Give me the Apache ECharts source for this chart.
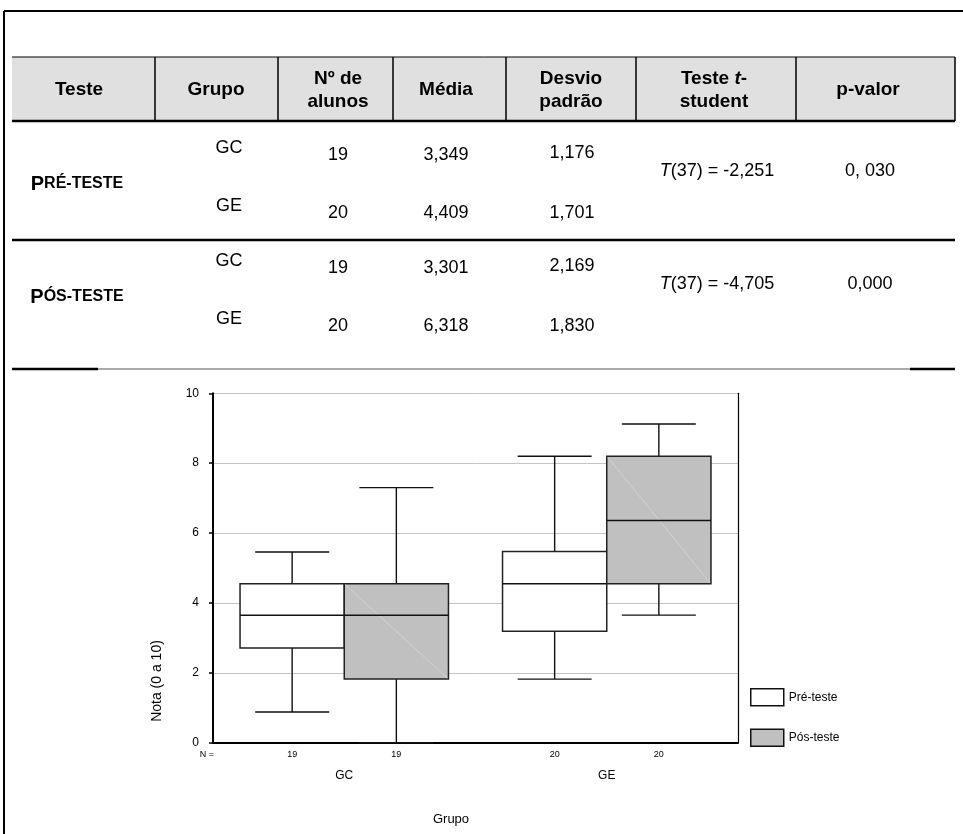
<!DOCTYPE html>
<html><head><meta charset="utf-8">
<script src="https://cdn.jsdelivr.net/npm/echarts@6/dist/echarts.min.js"></script>
<style>html,body{margin:0;padding:0;background:#fff}#c{width:963px;height:834px}</style>
</head><body><div id="c"></div><script>
// ---------- data ----------
const categories = ['GC', 'GE'];
// [min, Q1, median, Q3, max]
const preTeste = [[0.88, 2.71, 3.65, 4.55, 5.46], [1.82, 3.19, 4.55, 5.47, 8.2]];
const posTeste = [[0, 1.82, 3.65, 4.55, 7.3], [3.65, 4.55, 6.36, 8.2, 9.12]];
const nPre = [19, 20];
const nPos = [19, 20];
const yMin = 0, yMax = 10, yInterval = 2;

const tableHeaders = ['Teste', 'Grupo', 'Nº de\nalunos', 'Média', 'Desvio\npadrão', '{b|Teste }{bi|t}{b|-}\n{b|student}', 'p-valor'];
const testFirst = ['P', 'P'];
const testRest = ['RÉ-TESTE', 'ÓS-TESTE'];
const groups = ['GC', 'GE'];
const nAlunos = [['19', '20'], ['19', '20']];
const medias = [['3,349', '4,409'], ['3,301', '6,318']];
const desvios = [['1,176', '1,701'], ['2,169', '1,830']];
const tStats = ['(37) = -2,251', '(37) = -4,705'];
const pValues = ['0, 030', '0,000'];

// ---------- layout ----------
const FF = 'Liberation Sans, Arial, Helvetica, sans-serif';
const bandL = 12, bandR = 955, bandT = 57, bandB = 121;
const dividers = [155, 278, 393, 506, 636, 796];
const headX = [79, 216, 338, 446, 571, 714, 868];
const bodyX = {test: 77, grp: 229, n: 338, med: 446, dp: 572, t: 717, p: 870};
const blockTop = [122, 235];

const g = [];
// outer frame
g.push({type: 'line', shape: {x1: 4, y1: 11, x2: 963, y2: 11}, style: {stroke: '#000', lineWidth: 2}});
g.push({type: 'line', shape: {x1: 4, y1: 11, x2: 4, y2: 834}, style: {stroke: '#000', lineWidth: 2}});
// header band
g.push({type: 'rect', shape: {x: bandL, y: bandT, width: bandR - bandL, height: bandB - bandT}, style: {fill: '#e0e0e0'}});
g.push({type: 'line', shape: {x1: bandL, y1: bandT, x2: bandR, y2: bandT}, style: {stroke: '#000', lineWidth: 1}});
g.push({type: 'line', shape: {x1: bandL, y1: bandB, x2: bandR, y2: bandB}, style: {stroke: '#000', lineWidth: 2.5}});
g.push({type: 'line', shape: {x1: bandR, y1: bandT, x2: bandR, y2: bandB}, style: {stroke: '#000', lineWidth: 1.5}});
dividers.forEach(x => g.push({type: 'line', shape: {x1: x, y1: bandT, x2: x, y2: bandB}, style: {stroke: '#000', lineWidth: 1.5}}));
tableHeaders.forEach((h, i) => {
  g.push({type: 'text', style: {
    x: headX[i], y: (bandT + bandB) / 2 + 1, text: h, align: 'center', verticalAlign: 'middle',
    font: 'bold 19px ' + FF, fill: '#000', lineHeight: 23,
    rich: {b: {font: 'bold 19px ' + FF, lineHeight: 23}, bi: {font: 'italic bold 19px ' + FF, lineHeight: 23}}
  }});
});
// body
const txt = (x, y, s) => ({type: 'text', style: {x: x, y: y, text: s, align: 'center', verticalAlign: 'middle', font: '18px ' + FF, fill: '#000'}});
for (let t = 0; t < 2; t++) {
  const top = blockTop[t];
  g.push({type: 'text', style: {x: bodyX.test, y: top + 62, text: '{a|' + testFirst[t] + '}{b|' + testRest[t] + '}',
    align: 'center', verticalAlign: 'middle',
    rich: {a: {font: 'bold 20px ' + FF, fill: '#000'}, b: {font: 'bold 16px ' + FF, fill: '#000'}}}});
  for (let r = 0; r < 2; r++) {
    const yG = top + 26 + r * 58;
    const yN = top + 33 + r * 58;
    g.push(txt(bodyX.grp, yG, groups[r]));
    g.push(txt(bodyX.n, yN, nAlunos[t][r]));
    g.push(txt(bodyX.med, yN, medias[t][r]));
    g.push(txt(bodyX.dp, yN - (r === 0 ? 2 : 0), desvios[t][r]));
  }
  g.push({type: 'text', style: {x: bodyX.t, y: top + 49, text: '{i|T}{n|' + tStats[t] + '}', align: 'center', verticalAlign: 'middle',
    rich: {i: {font: 'italic 18px ' + FF, fill: '#000'}, n: {font: '18px ' + FF, fill: '#000'}}}});
  g.push(txt(bodyX.p, top + 49, pValues[t]));
}
g.push({type: 'line', shape: {x1: bandL, y1: 240, x2: bandR, y2: 240}, style: {stroke: '#000', lineWidth: 2.5}});
g.push({type: 'line', shape: {x1: 98, y1: 369, x2: 910, y2: 369}, style: {stroke: '#555', lineWidth: 1}});
g.push({type: 'line', shape: {x1: bandL, y1: 369, x2: 98, y2: 369}, style: {stroke: '#000', lineWidth: 2.5}});
g.push({type: 'line', shape: {x1: 910, y1: 369, x2: bandR, y2: 369}, style: {stroke: '#000', lineWidth: 2.5}});
// chart annotations
g.push({type: 'text', style: {x: 157, y: 681, text: 'Nota (0 a 10)', align: 'center', verticalAlign: 'middle', font: '14px ' + FF, fill: '#000'}, rotation: Math.PI / 2, originX: 157, originY: 681, x: 0, y: 0});
g.push({type: 'text', style: {x: 451, y: 819, text: 'Grupo', align: 'center', verticalAlign: 'middle', font: '13px ' + FF, fill: '#000'}});
g.push({type: 'text', style: {x: 207, y: 755, text: 'N =', align: 'center', verticalAlign: 'middle', font: '9px ' + FF, fill: '#000'}});

function makeRender(side, fill, diag, nArr) {
  return function (params, api) {
    const cat = api.value(0);
    const v = [1, 2, 3, 4, 5].map(k => api.value(k));
    const band = api.size([1, 0])[0];
    const bw = band * 0.397;
    const cx = api.coord([cat, v[2]])[0];
    const x0 = side < 0 ? cx - bw : cx;
    const xm = x0 + bw / 2;
    const y = v.map(val => api.coord([cat, val])[1]);
    const cap = bw * 0.71;
    const y0 = api.coord([cat, yMin])[1];
    const ln = {stroke: '#111', lineWidth: 1.4};
    const ch = [
      {type: 'line', shape: {x1: xm, y1: y[4], x2: xm, y2: y[3]}, style: ln},
      {type: 'line', shape: {x1: xm, y1: y[1], x2: xm, y2: y[0]}, style: ln},
      {type: 'line', shape: {x1: xm - cap / 2, y1: y[4], x2: xm + cap / 2, y2: y[4]}, style: ln},
      {type: 'line', shape: {x1: xm - cap / 2, y1: y[0], x2: xm + cap / 2, y2: y[0]}, style: ln},
      {type: 'rect', shape: {x: x0, y: y[3], width: bw, height: y[1] - y[3]}, style: {fill: fill, stroke: '#222', lineWidth: 1.5}}
    ];
    if (diag) ch.push({type: 'line', shape: {x1: x0 + 1, y1: y[3] + 1, x2: x0 + bw - 1, y2: y[1] - 1}, style: {stroke: '#dadada', lineWidth: 0.7}});
    ch.push({type: 'line', shape: {x1: x0, y1: y[2], x2: x0 + bw, y2: y[2]}, style: {stroke: '#111', lineWidth: 1.5}});
    ch.push({type: 'text', style: {x: xm, y: y0 + 12, text: String(nArr[params.dataIndex]), align: 'center', verticalAlign: 'middle', font: '9px ' + FF, fill: '#000'}});
    return {type: 'group', children: ch};
  };
}

const preData = preTeste.map((d, i) => [i].concat(d));
const posData = posTeste.map((d, i) => [i].concat(d));

const option = {
  animation: false,
  backgroundColor: '#fff',
  graphic: g,
  grid: {left: 213, right: 225, top: 393.3, bottom: 91.3, show: false},
  legend: {
    orient: 'vertical', left: 750, top: 688, padding: 0, itemWidth: 33, itemHeight: 17, itemGap: 22,
    textStyle: {fontFamily: FF, fontSize: 12, color: '#000'},
    selectedMode: false,
    data: [
      {name: 'Pré-teste', icon: 'rect', itemStyle: {color: '#fff', borderColor: '#111', borderWidth: 1.5}},
      {name: 'Pós-teste', icon: 'rect', itemStyle: {color: '#c0c0c0', borderColor: '#111', borderWidth: 1.5}}
    ]
  },
  xAxis: {
    type: 'category', data: categories, boundaryGap: true,
    axisLine: {lineStyle: {color: '#000', width: 2}},
    axisTick: {alignWithLabel: true, length: 4, lineStyle: {color: '#000', width: 1.5}},
    axisLabel: {fontFamily: FF, fontSize: 12, color: '#000', margin: 27},
    splitLine: {show: false}
  },
  yAxis: [{
    type: 'value', min: yMin, max: yMax, interval: yInterval,
    axisLine: {show: true, lineStyle: {color: '#000', width: 2}},
    axisTick: {show: true, length: 4, lineStyle: {color: '#000', width: 1.5}},
    axisLabel: {fontFamily: FF, fontSize: 12, color: '#000', margin: 14},
    splitLine: {show: true, lineStyle: {color: '#c4c4c4', width: 1}}
  }, {
    type: 'value', min: yMin, max: yMax, interval: yInterval, position: 'right',
    axisLine: {show: true, lineStyle: {color: '#000', width: 1.2}},
    axisTick: {show: false}, axisLabel: {show: false}, splitLine: {show: false}
  }],
  series: [
    {name: 'Pré-teste', type: 'custom', data: preData, encode: {x: 0, y: [1, 2, 3, 4, 5]},
     itemStyle: {color: '#fff', borderColor: '#111'}, renderItem: makeRender(-1, '#ffffff', false, nPre), clip: false, z: 3},
    {name: 'Pós-teste', type: 'custom', data: posData, encode: {x: 0, y: [1, 2, 3, 4, 5]},
     itemStyle: {color: '#c0c0c0', borderColor: '#111'}, renderItem: makeRender(1, '#c0c0c0', true, nPos), clip: false, z: 3}
  ]
};
const chart = echarts.init(document.getElementById('c'));
chart.setOption(option);
</script></body></html>
